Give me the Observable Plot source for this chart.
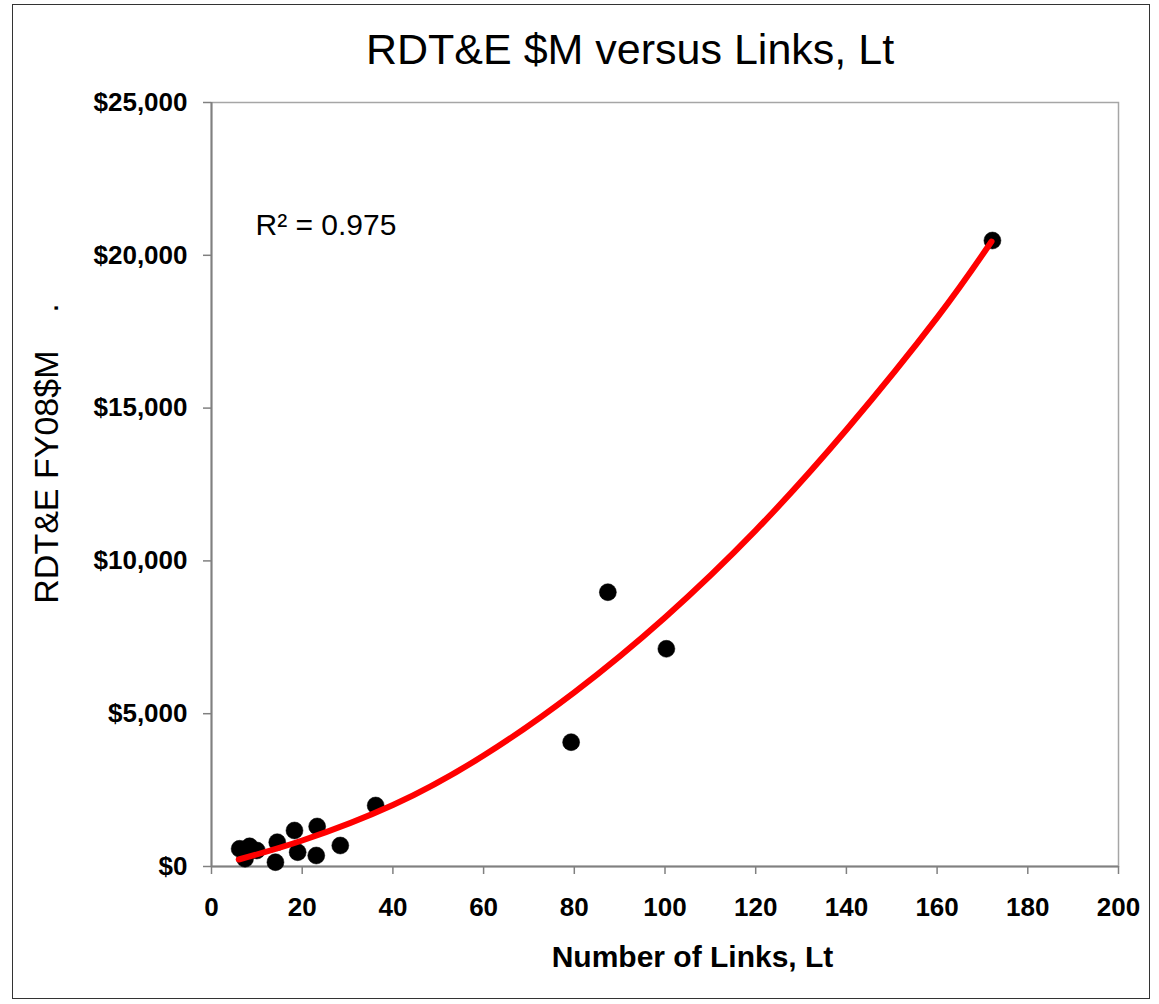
<!DOCTYPE html>
<html>
<head>
<meta charset="utf-8">
<script src="https://cdn.jsdelivr.net/npm/d3@7"></script>
<script src="https://cdn.jsdelivr.net/npm/@observablehq/plot@0.6"></script>
<style>
  html, body { margin: 0; padding: 0; background: #fff; }
  #wrap { position: relative; width: 1159px; height: 1004px; overflow: hidden; background: #fff; }
  #border { position: absolute; left: 12px; top: 4px; width: 1138px; height: 995px; border: 1.5px solid #333; box-sizing: border-box; pointer-events: none; }
  #title { position: absolute; left: 366px; top: 28px; font: 43px/43px "Liberation Sans", Arial, sans-serif; color: #000; white-space: nowrap; }
  #chart { position: absolute; left: 0; top: 0; }
</style>
</head>
<body>
<div id="wrap">
  <div id="chart"></div>
  <div id="title">RDT&amp;E $M versus Links, Lt</div>
  <div id="border"></div>
</div>
<script>
// Data points
const links = [6.2, 8.4, 10.0, 7.4, 14.5, 14.1, 18.3, 19.0, 23.3, 23.1, 28.4, 36.2, 79.3, 87.4, 100.3, 172.2];
const rdte  = [579, 660, 524, 252, 795, 141, 1178, 468, 1310, 360, 687, 1996, 4068, 8976, 7124, 20484];

const trendX = [6, 20, 40, 60, 80, 100, 120, 140, 160, 172];
const trendY = [229, 850, 2010, 3630, 5700, 8150, 11000, 14290, 17960, 20450];

const xTicks = [0, 20, 40, 60, 80, 100, 120, 140, 160, 180, 200];
const yTicks = [0, 5000, 10000, 15000, 20000, 25000];

const r2Label = "R² = 0.975";
const xLabel = "Number of Links, Lt";
const yLabel = "RDT&E FY08$M\u00a0\u00a0\u00a0\u00a0.";

const points = links.map((x, i) => ({x, y: rdte[i]}));
const trend = trendX.map((x, i) => ({x, y: trendY[i]}));

const fmt = d3.format(",");
const font = "Liberation Sans, Arial, sans-serif";

const chart = Plot.plot({
  width: 1159,
  height: 1004,
  marginLeft: 211,
  marginRight: 41,
  marginTop: 102,
  marginBottom: 138,
  style: {fontFamily: font, background: "transparent", color: "#000", overflow: "visible"},
  x: {domain: [0, 200], label: null},
  y: {domain: [0, 25000], label: null},
  marks: [
    Plot.frame({stroke: "#a6a6a6", strokeWidth: 1.5}),
    Plot.ruleX([0], {stroke: "#808080", strokeWidth: 2}),
    Plot.ruleY([0], {stroke: "#808080", strokeWidth: 2}),
    Plot.axisX({ticks: xTicks, tickSize: 8, tickPadding: 23, stroke: "#808080", strokeWidth: 1.5,
      fontSize: 26, fontWeight: "bold", label: null, tickFormat: d => String(d)}),
    Plot.axisY({ticks: yTicks, tickSize: 8, tickPadding: 16, stroke: "#808080", strokeWidth: 1.5,
      fontSize: 26, fontWeight: "bold", label: null, tickFormat: d => "$" + fmt(d)}),
    Plot.dot(points, {x: "x", y: "y", r: 8.5, fill: "#000", stroke: "#000", strokeWidth: 0.5}),
    Plot.line(trend, {x: "x", y: "y", stroke: "#ff0000", strokeWidth: 6, curve: "natural"}),
    Plot.text([r2Label], {frameAnchor: "top-left", dx: 44, dy: 123, textAnchor: "start", lineAnchor: "middle",
      fontSize: 30, fill: "#000"}),
    Plot.text([xLabel], {frameAnchor: "bottom", dx: 27.5, dy: 91, textAnchor: "middle", lineAnchor: "middle",
      fontSize: 30, fontWeight: "bold", fill: "#000"}),
    Plot.text([yLabel], {frameAnchor: "left", dx: -164.5, dy: -31, rotate: -90, textAnchor: "middle", lineAnchor: "middle",
      fontSize: 34, fill: "#000"})
  ]
});
document.getElementById("chart").appendChild(chart);
</script>
</body>
</html>
